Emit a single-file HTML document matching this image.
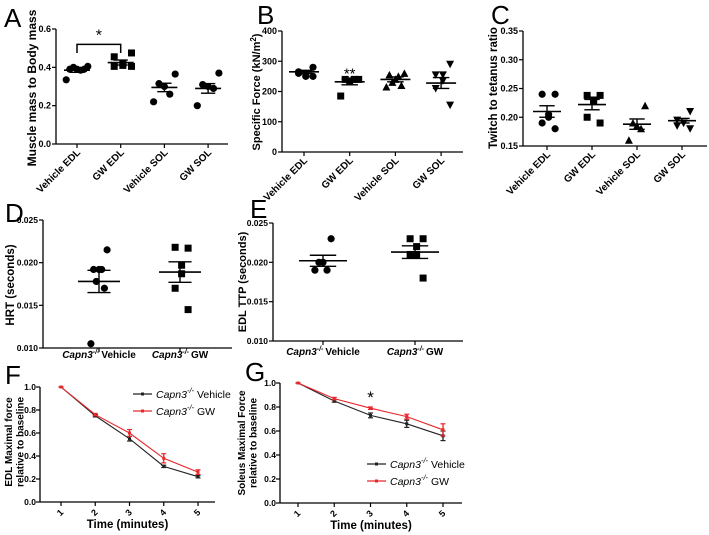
<!DOCTYPE html>
<html><head><meta charset="utf-8"><style>
html,body{margin:0;padding:0;background:#fff;}
svg{display:block;font-family:"Liberation Sans",Arial,sans-serif;}
</style></head><body>
<svg id="fig" width="709" height="535" viewBox="0 0 709 535" xmlns="http://www.w3.org/2000/svg"></svg>
<script>
// ---- data ----
const catsABC = ["Vehicle EDL","GW EDL","Vehicle SOL","GW SOL"];
const aVals = [[0.405,0.39,0.385,0.39,0.40,0.39,0.335],[0.475,0.455,0.42,0.41,0.405,0.405],[0.365,0.315,0.30,0.26,0.22],[0.37,0.31,0.30,0.29,0.20]];
const aMeans = [0.385,0.425,0.295,0.29];
const aSems = [0.011,0.013,0.022,0.025];
const aTicks = ["0.0","0.2","0.4","0.6"];
const bVals = [[280,265,255,250,260,250],[240,240,235,240,185],[260,255,250,240,230,220,215],[290,255,255,235,210,155]];
const bMeans = [265,232,240,228];
const bSems = [5,10,8,18];
const bTicks = ["0","100","200","300","400"];
const cVals = [[0.24,0.24,0.20,0.205,0.19,0.18],[0.238,0.238,0.23,0.228,0.20,0.19],[0.22,0.19,0.185,0.18,0.16],[0.21,0.195,0.19,0.19,0.185,0.18]];
const cMeans = [0.21,0.222,0.188,0.194];
const cSems = [0.01,0.009,0.009,0.004];
const cTicks = ["0.15","0.20","0.25","0.30","0.35"];
const catsDE = ["Vehicle","GW"];
const dVals = [[0.0215,0.0192,0.0192,0.0192,0.0178,0.017,0.0105],[0.0217,0.0218,0.0197,0.0187,0.017,0.0145]];
const dMeans = [0.0178,0.0189];
const dSems = [0.0013,0.0012];
const deTicks = ["0.010","0.015","0.020","0.025"];
const eVals = [[0.023,0.020,0.020,0.019,0.019],[0.023,0.023,0.022,0.021,0.021,0.018]];
const eMeans = [0.0202,0.0213];
const eSems = [0.0007,0.0008];
const times = [1,2,3,4,5];
const fVeh = [1,0.75,0.55,0.31,0.22];
const fVehErr = [0,0.01,0.02,0.01,0.01];
const fGW = [1,0.76,0.60,0.38,0.26];
const fGWErr = [0,0.01,0.03,0.04,0.02];
const gVeh = [1,0.85,0.73,0.66,0.56];
const gVehErr = [0,0.01,0.02,0.03,0.04];
const gGW = [1,0.87,0.79,0.72,0.61];
const gGWErr = [0,0.01,0.01,0.02,0.05];
const lTicks = ["0.0","0.2","0.4","0.6","0.8","1.0"];

const NS="http://www.w3.org/2000/svg";
const svg=document.getElementById('fig');
function el(tag,attrs,parent,txt){const e=document.createElementNS(NS,tag);for(const k in attrs)e.setAttribute(k,attrs[k]);if(txt!==undefined)e.textContent=txt;(parent||svg).appendChild(e);return e;}
function lin(d0,d1,p0,p1){return v=>p0+(v-d0)/(d1-d0)*(p1-p0);}

function panelLetter(t,x,y){const e=el('text',{x:x,y:y,'font-size':26},svg,t);

}

function yTitle(lines,x,cy,g,fs,gap){
  lines.forEach((ln,i)=>{
    const t=el('text',{transform:`translate(${x+i*(gap||12.5)},${cy}) rotate(-90)`,'text-anchor':'middle','font-size':fs||11.5,'font-weight':'bold'},g,ln);
    
    
  });
}

function axes(g,ax){
  const ya=el('line',{x1:ax.x0,y1:ax.yTop,x2:ax.x0,y2:ax.yBot,stroke:'#000','stroke-width':1.3},g);
  
  
  const xa=el('line',{x1:ax.x0,y1:ax.yBot,x2:ax.x1,y2:ax.yBot,stroke:'#000','stroke-width':1.3},g);
  
  
  ax.ticks.forEach(tl=>{
    const y=ax.ys(parseFloat(tl));
    el('line',{x1:ax.x0-4,y1:y,x2:ax.x0,y2:y,stroke:'#000','stroke-width':1.2},g);
    const t=el('text',{x:ax.x0-(ax.toff||5),y:y+3,'text-anchor':'end','font-size':ax.tfs||9,'font-weight':'bold'},g,tl);
    
    
  });
}

function marker(g,shape,x,y){
  let m;
  if(shape==='circle')m=el('circle',{cx:x,cy:y,r:3.6,fill:'#000'},g);
  else if(shape==='square')m=el('rect',{x:x-3.5,y:y-3.5,width:7,height:7,fill:'#000'},g);
  else if(shape==='up')m=el('polygon',{points:`${x},${y-4} ${x-4},${y+3.5} ${x+4},${y+3.5}`,fill:'#000'},g);
  else m=el('polygon',{points:`${x},${y+4} ${x-4},${y-3.5} ${x+4},${y-3.5}`,fill:'#000'},g);
  
  
}

function scatterPanel(cfg){
  const g=el('g',{},svg);
  
  
  const ys=lin(cfg.dmin,cfg.dmax,cfg.yBot,cfg.yTop);
  const xs=i=>cfg.cx0+i*cfg.dx;
  axes(g,{x0:cfg.x0,x1:cfg.x1,yTop:cfg.yTop,yBot:cfg.yBot,ys:ys,ticks:cfg.ticks,tfs:cfg.tfs});
  cfg.cats.forEach((c,i)=>{
    const x=xs(i);
    el('line',{x1:x,y1:cfg.yBot,x2:x,y2:cfg.yBot+4,stroke:'#000','stroke-width':1.2},g);
    let t;
    if(cfg.rot){
      t=el('text',{transform:`translate(${x+4},${cfg.yBot+9}) rotate(-45)`,'text-anchor':'end','font-size':10,'font-weight':'bold'},g,c);
    }else{
      t=el('text',{x:x,y:cfg.yBot+cfg.labDy,'text-anchor':'middle','font-size':10,'font-weight':'bold'},g);
      el('tspan',{'font-style':'italic'},t,'Capn3');
      el('tspan',{'font-size':7,dy:-4,'font-style':'italic'},t,'-/- ');
      el('tspan',{dy:4},t,c);
    }
    
    
    const vals=cfg.vals[i];const sh=cfg.shapes[i];
    const n=vals.length;const sp=cfg.spread;
    vals.forEach((v,j)=>{
      const off=n>1?(-sp+2*sp*(j/(n-1))):0;
      marker(g,sh,x+off*((j%2)?1:-1)*0.9,ys(v));
    });
    const m=cfg.means[i],s=cfg.sems[i];
    const w=cfg.meanW;
    const ml=el('line',{x1:x-w,y1:ys(m),x2:x+w,y2:ys(m),stroke:'#000','stroke-width':1.6},g);
    
    
    el('line',{x1:x,y1:ys(m+s),x2:x,y2:ys(m-s),stroke:'#000','stroke-width':1.4},g);
    el('line',{x1:x-w*0.55,y1:ys(m+s),x2:x+w*0.55,y2:ys(m+s),stroke:'#000','stroke-width':1.4},g);
    el('line',{x1:x-w*0.55,y1:ys(m-s),x2:x+w*0.55,y2:ys(m-s),stroke:'#000','stroke-width':1.4},g);
  });
  return {g,ys,xs};
}

// Panel A
panelLetter('A',4,27);
let A=scatterPanel({name:'panel-a',cats:catsABC,vals:aVals,means:aMeans,sems:aSems,ticks:aTicks,dmin:0,dmax:0.6,yTop:29,yBot:144,x0:56,x1:228,cx0:77,dx:43.7,rot:true,shapes:['circle','square','circle','circle'],spread:12,meanW:13});
yTitle(['Muscle mass to Body mass'],36,88,A.g,12);
el('path',{d:`M${A.xs(0)},${A.ys(0.475)} V${A.ys(0.52)} H${A.xs(1)} V${A.ys(0.475)}`,fill:'none',stroke:'#000','stroke-width':1.5},A.g);
el('text',{x:(A.xs(0)+A.xs(1))/2,y:A.ys(0.54),'text-anchor':'middle','font-size':16},A.g,'*');

// Panel B
panelLetter('B',257,24);
let B=scatterPanel({name:'panel-b',cats:catsABC,vals:bVals,means:bMeans,sems:bSems,ticks:bTicks,dmin:0,dmax:400,yTop:31,yBot:152,x0:282,x1:463,cx0:304,dx:45.7,rot:true,shapes:['circle','square','up','down'],spread:10,meanW:15});
{const t=el('text',{transform:`translate(260,92) rotate(-90)`,'text-anchor':'middle','font-size':11,'font-weight':'bold'},B.g);
el('tspan',{},t,'Specific Force (kN/m');el('tspan',{'font-size':8,dy:-4},t,'2');el('tspan',{dy:4},t,')');

}
el('text',{x:B.xs(1),y:B.ys(262)+6,'text-anchor':'middle','font-size':15},B.g,'**');

// Panel C
panelLetter('C',491,24);
let C=scatterPanel({name:'panel-c',cats:catsABC,vals:cVals,means:cMeans,sems:cSems,ticks:cTicks,dmin:0.15,dmax:0.35,yTop:31,yBot:146,x0:523,x1:707,cx0:547,dx:45,rot:true,shapes:['circle','square','up','down'],spread:9,meanW:14});
yTitle(['Twitch to tetanus ratio'],497,88,C.g,11.5);

// Panel D
panelLetter('D',5,222);
let D=scatterPanel({name:'panel-d',cats:catsDE,vals:dVals,means:dMeans,sems:dSems,ticks:deTicks,dmin:0.010,dmax:0.025,yTop:220,yBot:348,x0:43,x1:232,cx0:99,dx:81,rot:false,labDy:10,tfs:8.5,shapes:['circle','square'],spread:9,meanW:21});
yTitle(['HRT (seconds)'],14,285,D.g,11.5);

// Panel E
panelLetter('E',250,218);
let E=scatterPanel({name:'panel-e',cats:catsDE,vals:eVals,means:eMeans,sems:eSems,ticks:deTicks,dmin:0.010,dmax:0.025,yTop:223,yBot:341,x0:273,x1:463,cx0:323,dx:92,rot:false,labDy:14,tfs:8.5,shapes:['circle','square'],spread:9,meanW:24});
yTitle(['EDL TTP (seconds)'],246,282,E.g,11);

// line panels
function linePanel(cfg){
  const g=el('g',{},svg);
  
  
  const ys=lin(0,1,cfg.yBot,cfg.yTop);
  const xs=lin(1,5,cfg.cx0,cfg.cx1);
  axes(g,{x0:cfg.x0,x1:cfg.x1,yTop:cfg.yTop,yBot:cfg.yBot,ys:ys,ticks:lTicks,tfs:8.5,toff:4});
  times.forEach(tm=>{
    const x=xs(tm);
    el('line',{x1:x,y1:cfg.yBot,x2:x,y2:cfg.yBot+4,stroke:'#000','stroke-width':1.2},g);
    const t=el('text',{transform:`translate(${x+3},${cfg.yBot+11}) rotate(-45)`,'text-anchor':'end','font-size':9,'font-weight':'bold'},g,String(tm));
    
    
  });
  const xt=el('text',{x:(cfg.x0+cfg.x1)/2,y:cfg.yBot+26,'text-anchor':'middle','font-size':11.5,'font-weight':'bold'},g,'Time (minutes)');
  
  
  const series=[[cfg.veh,cfg.vehErr,'#222','vehicle'],[cfg.gw,cfg.gwErr,'#e8262b','gw']];
  series.forEach(([vals,errs,col,nm])=>{
    const p=el('polyline',{points:vals.map((v,i)=>`${xs(times[i])},${ys(v)}`).join(' '),fill:'none',stroke:col,'stroke-width':1.1},g);
    
    
    vals.forEach((v,i)=>{
      const x=xs(times[i]);
      el('line',{x1:x,y1:ys(v+errs[i]),x2:x,y2:ys(v-errs[i]),stroke:col,'stroke-width':1.3},g);
      el('line',{x1:x-2.5,y1:ys(v+errs[i]),x2:x+2.5,y2:ys(v+errs[i]),stroke:col,'stroke-width':1.2},g);
      el('line',{x1:x-2.5,y1:ys(v-errs[i]),x2:x+2.5,y2:ys(v-errs[i]),stroke:col,'stroke-width':1.2},g);
      el('rect',{x:x-1.5,y:ys(v)-1.5,width:3,height:3,fill:col},g);
    });
  });
  [['Vehicle','#222',cfg.legY],['GW','#e8262b',cfg.legY+17]].forEach(([lab,col,y])=>{
    const lg=el('g',{},g);
    
    
    el('line',{x1:cfg.legX,y1:y,x2:cfg.legX+19,y2:y,stroke:col,'stroke-width':1.3},lg);
    el('rect',{x:cfg.legX+8,y:y-1.5,width:3,height:3,fill:col},lg);
    const t=el('text',{x:cfg.legX+23,y:y+4,'font-size':10.5},lg);
    el('tspan',{'font-style':'italic'},t,'Capn3');
    el('tspan',{'font-size':7.5,dy:-5,'font-style':'italic'},t,'-/-');
    el('tspan',{dy:5},t,' '+lab);
  });
  return {g,xs,ys};
}
panelLetter('F',5,384);
let F=linePanel({name:'panel-f',veh:fVeh,vehErr:fVehErr,gw:fGW,gwErr:fGWErr,x0:40,x1:215,yTop:387,yBot:502,cx0:61,cx1:198,legX:133,legY:394});
yTitle(['EDL Maximal force','relative to baseline'],12,442,F.g,10,11.5);
panelLetter('G',245,381);
let G=linePanel({name:'panel-g',veh:gVeh,vehErr:gVehErr,gw:gGW,gwErr:gGWErr,x0:280,x1:462,yTop:383,yBot:503,cx0:298,cx1:443,legX:367,legY:464});
yTitle(['Soleus Maximal Force','relative to baseline'],245,443,G.g,10,11.5);
el('text',{x:G.xs(3),y:G.ys(0.79)-5,'text-anchor':'middle','font-size':17},G.g,'*');
</script>
</body></html>
